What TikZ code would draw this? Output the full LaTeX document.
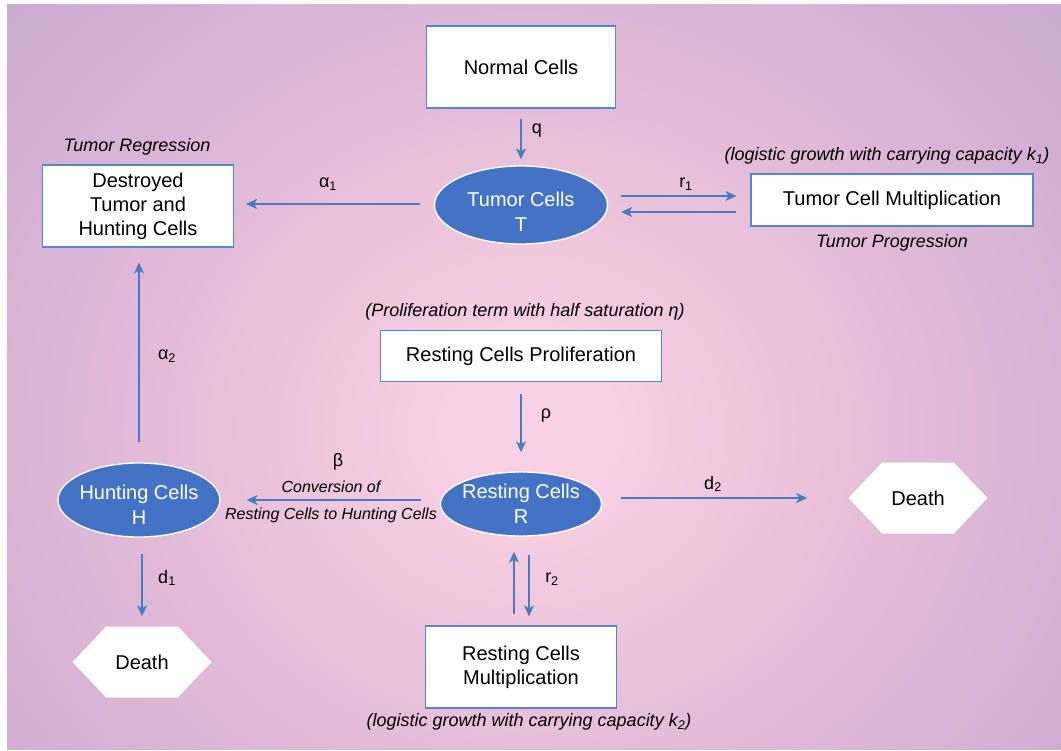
\documentclass[tikz,border=0pt]{standalone}
\usepackage{fontspec}
\setmainfont{Liberation Sans}
\usetikzlibrary{shapes.geometric,shapes.symbols,arrows.meta,calc}

\definecolor{cellblue}{HTML}{4472C4}
\definecolor{flowblue}{HTML}{4A7BC2}
\definecolor{frameblue}{HTML}{5585D0}
\definecolor{bgpink}{RGB}{247,208,225}
\definecolor{bgmid}{RGB}{224,185,215}
\definecolor{bgmauve}{RGB}{196,166,207}

% soft glow behind the whole scheme
\pgfdeclareradialshading{glow}{\pgfpoint{0bp}{0bp}}{%
  color(0bp)=(bgpink); color(4bp)=(bgpink); color(19bp)=(bgmid);
  color(37bp)=(bgmauve); color(75bp)=(bgmauve)}

\begin{document}
\begin{tikzpicture}[x=1pt,y=-1pt,
  box/.style={draw=frameblue, line width=1.1pt, fill=white, inner sep=0pt,
    align=center, font=\fontsize{20}{24}\selectfont},
  cell/.style={ellipse, draw=white, line width=1.3pt, fill=cellblue,
    inner sep=0pt},
  celltext/.style={text=white, inner sep=0pt, align=center,
    font=\fontsize{20}{25}\selectfont},
  deathbox/.style={signal, signal to=west and east, signal pointer angle=93,
    fill=white, inner sep=0pt, minimum width=139pt, minimum height=71pt,
    font=\fontsize{20}{24}\selectfont},
  flow/.style={draw=flowblue, line width=1.4pt,
    -{Stealth[length=11pt,width=10pt,inset=3pt]}},
  note/.style={font=\fontsize{18}{22}\selectfont\itshape},
  smallnote/.style={font=\fontsize{16}{19}\selectfont\itshape},
  rate/.style={font=\fontsize{18}{22}\selectfont}]

\useasboundingbox (0,0) rectangle (1061,751);
\fill[white] (0,0) rectangle (1061,751);
\begin{scope}
  \clip (7,5) rectangle (1061,749);
  \fill[bgmauve] (7,5) rectangle (1061,749);
  \shade[shading=glow] (-15,-60) rectangle (1075,920);
\end{scope}

% compartments
\node[box, minimum width=189pt, minimum height=82pt] (N) at (521,67) {Normal Cells};
\node[cell, minimum width=173pt, minimum height=78pt] (T) at (521,205) {};
\node[celltext] (Tt) at ([yshift=-7pt]T.center) {Tumor Cells\\T};
\node[box, minimum width=282pt, minimum height=52pt] (TM) at (892,200) {Tumor Cell Multiplication};
\node[box, minimum width=191pt, minimum height=82pt] (DT) at (138,206) {Destroyed\\Tumor and\\Hunting Cells};
\node[box, minimum width=281pt, minimum height=51pt] (P) at (521,356) {Resting Cells Proliferation};
\node[cell, minimum width=161pt, minimum height=64pt] (R) at (521,504) {};
\node[celltext] (Rt) at (R.center) {Resting Cells\\R};
\node[cell, minimum width=162pt, minimum height=74pt] (H) at (139,500) {};
\node[celltext] (Ht) at ([yshift=-5pt]H.center) {Hunting Cells\\H};
\node[box, minimum width=191pt, minimum height=82pt] (RM) at (521,667) {Resting Cells\\Multiplication};
\node[deathbox] (D1) at (142,662) {Death};
\node[deathbox] (D2) at (918,498) {Death};

% descriptive notes
\node[note] (regr) at (137,147) {Tumor Regression};
\node[note] (log1) at (887,156) {(logistic growth with carrying capacity \textit{k}\textsubscript{1})};
\node[note] (prog) at (892,243) {Tumor Progression};
\node[note] (prol) at (525,312) {(Proliferation term with half saturation η)};
\node[note] (log2) at (529,722) {(logistic growth with carrying capacity \textit{k}\textsubscript{2})};
\node[smallnote] (conv1) at (331,487) {Conversion of};
\node[smallnote] (conv2) at (331,515) {Resting Cells to Hunting Cells};

% rate constants
\node[rate] (lq) at (537,131) {q};
\node[rate] (la1) at (328,184) {α\textsubscript{1}};
\node[rate] (lr1) at (686,184) {r\textsubscript{1}};
\node[rate] (la2) at (167,356) {α\textsubscript{2}};
\node[rate] (lrho) at (546,416) {ρ};
\node[rate] (lb) at (338,462) {β};
\node[rate] (ld2) at (713,484) {d\textsubscript{2}};
\node[rate] (ld1) at (167,578) {d\textsubscript{1}};
\node[rate] (lr2) at (552,579) {r\textsubscript{2}};

% flows
\draw[flow, shorten <=10pt, shorten >=6pt] (N.south) -- (T.north);
\draw[flow, shorten <=14pt, shorten >=12pt] ([yshift=1pt]T.west) -- ([yshift=1pt]T.west -| DT.east);
\draw[flow, shorten <=13pt, shorten >=14pt] ([yshift=9pt]T.east) -- ([yshift=9pt]T.east -| TM.west);
\draw[flow, shorten <=14pt, shorten >=13pt] ([yshift=-7pt]T.east -| TM.west) -- ([yshift=-7pt]T.east);
\draw[flow, shorten <=20pt, shorten >=15pt] (H.north) -- (H.north |- DT.south);
\draw[flow, shorten <=12pt, shorten >=19pt] (P.south) -- (R.north);
\draw[flow, shorten <=19pt, shorten >=26pt] (H.east -| R.west) -- (H.east);
\draw[flow, shorten <=19pt, shorten >=41pt] (D2.west -| R.east) -- (D2.west);
\draw[flow, shorten <=16pt, shorten >=10pt] (D1.north |- H.south) -- (D1.north);
\draw[flow, shorten <=11pt, shorten >=15pt] ([xshift=-7pt]RM.north) -- ([xshift=-7pt]RM.north |- R.south);
\draw[flow, shorten <=18pt, shorten >=9pt] ([xshift=8pt]RM.north |- R.south) -- ([xshift=8pt]RM.north);
\end{tikzpicture}
\end{document}
